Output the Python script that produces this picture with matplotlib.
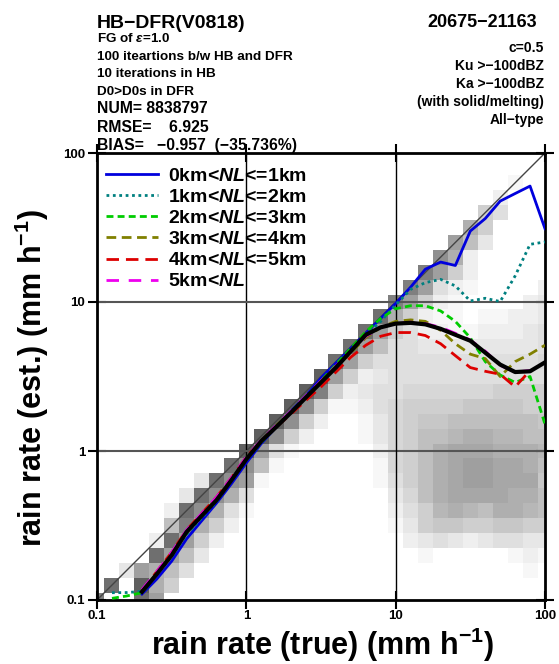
import numpy as np
import matplotlib
matplotlib.use('Agg')
import matplotlib.pyplot as plt

plt.rcParams['font.family'] = ['Liberation Sans', 'DejaVu Sans']
plt.rcParams['font.weight'] = 'bold'
plt.rcParams['mathtext.fontset'] = 'custom'
plt.rcParams['mathtext.rm'] = 'Liberation Sans:bold'
plt.rcParams['mathtext.it'] = 'Liberation Sans:italic:bold'
plt.rcParams['mathtext.bf'] = 'Liberation Sans:bold'

# 2D histogram shading (base-36 digit per cell, 0=white .. k=darkest)
# rows: bottom (0.1 mm/h) -> top (100 mm/h), bins centred every 0.1 in log10
shade_rows = [
    "g00ic00000" "0000000000" "00000000000",
    "0i0ka60000" "0000000000" "00000000000",
    "003ca84000" "0000000000" "00000000010",
    "0000ic8300" "0000000000" "00100000121",
    "00002ic620" "0000000000" "02343234433",
    "000008ga62" "0000000000" "13677667766",
    "000002iea4" "1000000000" "2469a98aa98",
    "0000003iea" "4000000000" "358abbbbaa8",
    "00000003ie" "c100000001" "468abccbbb7",
    "000000000i" "e810000001" "568abccbba8",
    "0000000000" "kc41000002" "568abbbaaa9",
    "0000000000" "0ke6200013" "56889aa9988",
    "0000000000" "00ke620013" "56778888887",
    "0000000000" "000ke61124" "56666777766",
    "0000000000" "0000kg6234" "45555556666",
    "0000000000" "00000kc623" "44444444444",
    "0000000000" "000000ic64" "44444444445",
    "0000000000" "0000000ic8" "44333333334",
    "0000000000" "00000000ic" "64221122234",
    "0000000000" "000000000i" "a6211011223",
    "0000000000" "0000000000" "gc621000023",
    "0000000000" "0000000000" "0gc42100002",
    "0000000000" "0000000000" "00gc6200000",
    "0000000000" "0000000000" "000ea200000",
    "0000000000" "0000000000" "0000c830000",
    "0000000000" "0000000000" "00000a60000",
    "0000000000" "0000000000" "00000064000",
    "0000000000" "0000000000" "00000002000",
    "0000000000" "0000000000" "00000000100",
    "0000000000" "0000000000" "00000000000",
    "0000000000" "0000000000" "00000000000",
]

# true rain rate bin centres (mm/h)
x_from_02 = [0.2, 0.251, 0.316, 0.398, 0.501, 0.631, 0.794, 1.0, 1.26, 1.58,
             2.0, 2.51, 3.16, 3.98, 5.01, 6.31, 7.94, 10.0, 12.6, 15.8,
             20.0, 25.1, 31.6, 39.8, 50.1, 63.1, 79.4, 100.0]
x_from_013 = [0.126, 0.158] + x_from_02

# mean estimated rain rate, log10(mm/h)
nl_all = [-0.945, -0.827, -0.70, -0.543, -0.436, -0.33, -0.196, -0.055,
          0.067, 0.16, 0.26, 0.36, 0.46, 0.56, 0.67, 0.78, 0.83,
          0.855, 0.86, 0.85, 0.82, 0.78, 0.74, 0.66, 0.58, 0.53, 0.535, 0.595]
nl_0_1 = [-0.96, -0.86, -0.74, -0.59, -0.47, -0.35, -0.22, -0.08,
          0.05, 0.16, 0.27, 0.37, 0.49, 0.59, 0.69, 0.79, 0.89,
          0.99, 1.10, 1.22, 1.268, 1.245, 1.476, 1.56, 1.677, 1.728, 1.778, 1.492]
nl_1_2 = [-0.951, -0.95, -0.942, -0.83, -0.71, -0.56, -0.45, -0.34, -0.20, -0.06,
          0.06, 0.16, 0.26, 0.36, 0.47, 0.57, 0.68, 0.78, 0.87,
          0.98, 1.085, 1.13, 1.152, 1.108, 1.007, 1.025, 1.003, 1.175, 1.387, 1.403]
nl_2_3 = [-0.989, -0.973, -0.951, -0.83, -0.70, -0.55, -0.44, -0.33, -0.20, -0.06,
          0.06, 0.16, 0.26, 0.36, 0.47, 0.58, 0.69, 0.80, 0.89,
          0.955, 0.975, 0.975, 0.94, 0.87, 0.76, 0.60, 0.51, 0.46, 0.50, 0.18]
nl_3_4 = [-0.945, -0.82, -0.69, -0.54, -0.43, -0.32, -0.19, -0.05,
          0.07, 0.17, 0.26, 0.36, 0.47, 0.56, 0.66, 0.76, 0.83,
          0.87, 0.88, 0.87, 0.81, 0.72, 0.65, 0.62, 0.50, 0.60, 0.65, 0.71]
nl_4_5 = [-0.94, -0.81, -0.68, -0.53, -0.42, -0.31, -0.18, -0.04,
          0.07, 0.16, 0.25, 0.34, 0.43, 0.53, 0.63, 0.71, 0.77,
          0.795, 0.795, 0.775, 0.72, 0.64, 0.56, 0.535, 0.515, 0.43, 0.54]
nl_5_up = [-0.93, -0.81, -0.68, -0.53, -0.42, -0.31, -0.18, -0.04,
           0.075, 0.17, 0.27, 0.37, 0.47, 0.57, 0.67, 0.77, 0.83,
           0.855, 0.865, 0.855, 0.83, 0.79, 0.745, 0.67, 0.575, 0.53, 0.54]

left_text = ["FG of $\\varepsilon$=1.0", "100 iteartions b/w HB and DFR",
             "10 iterations in HB", "D0>D0s in DFR"]
stat_text = ["NUM= 8838797", "RMSE=    6.925", "BIAS=   \u22120.957  (\u221235.736%)"]
right_text = ["c=0.5", "Ku >\u2212100dBZ", "Ka >\u2212100dBZ",
              "(with solid/melting)", "All\u2212type"]

W, H = 559, 664
fig = plt.figure(figsize=(W / 100, H / 100), dpi=100)
ax = fig.add_axes([97 / W, (H - 600) / H, 448 / W, 447 / H])

def fx(px):
    return px / W

def fy(py):
    return 1 - py / H

# histogram
shade = np.array([[int(c, 36) for c in row] for row in shade_rows])
edges = 10 ** (-1.05 + 0.1 * np.arange(32))
ax.pcolormesh(edges, edges, shade, cmap='gray_r', vmin=0, vmax=32,
              shading='flat', zorder=1)

# guide lines
ax.plot([0.1, 100], [0.1, 100], color='#444444', lw=1.0, zorder=2)
for v in [1, 10]:
    ax.axvline(v, color='black', lw=1.0, zorder=2)
    ax.axhline(v, color='#555555', lw=1.5, zorder=2)

x02 = np.array(x_from_02)
x013 = np.array(x_from_013)
ax.plot(x02, 10 ** np.array(nl_0_1), color='#0000dd', lw=2, zorder=3,
        label='0km<$NL$<=1km')
ax.plot(x013, 10 ** np.array(nl_1_2), color='#008080', lw=2, ls=(0, (1, 1.3)),
        zorder=3, label='1km<$NL$<=2km')
ax.plot(x013, 10 ** np.array(nl_2_3), color='#00cc00', lw=2, ls=(0, (2.5, 1.5)),
        zorder=3, label='2km<$NL$<=3km')
ax.plot(x02, 10 ** np.array(nl_3_4), color='#808000', lw=2, ls=(0, (3.5, 2)),
        zorder=3, label='3km<$NL$<=4km')
ax.plot(x02[:27], 10 ** np.array(nl_4_5), color='#dd0000', lw=2, ls=(0, (4.5, 2.5)),
        zorder=3, label='4km<$NL$<=5km')
ax.plot(x02[:27], 10 ** np.array(nl_5_up), color='#ee00ee', lw=2, ls=(0, (4.5, 3.5)),
        zorder=3, label='5km<$NL$')
ax.plot(x02, 10 ** np.array(nl_all), color='black', lw=3, zorder=4)

ax.set_xscale('log')
ax.set_yscale('log')
ax.set_xlim(0.1, 100)
ax.set_ylim(0.1, 100)
ticks = [0.1, 1, 10, 100]
tick_labels = ['0.1', '1', '10', '100']
ax.set_xticks(ticks)
ax.set_xticklabels(tick_labels)
ax.set_yticks(ticks)
ax.set_yticklabels(tick_labels)
ax.minorticks_off()
ax.tick_params(direction='inout', length=13, width=1.5, top=True, right=True,
               labelsize=9.5, pad=2)
ax.tick_params(axis='x', pad=0.5)
for s in ax.spines.values():
    s.set_linewidth(2)

leg = ax.legend(loc='upper left', bbox_to_anchor=(0.02, 0.968), frameon=False,
                fontsize=14, handlelength=2.7, handletextpad=0.5,
                labelspacing=0.18, borderaxespad=0, borderpad=0)

# header text
fig.text(fx(97), fy(28), "HB\u2212DFR(V0818)", fontsize=14, va='baseline')
for k, t in enumerate(left_text):
    fig.text(fx(97), fy(42 + 17.7 * k), t, fontsize=9.7, va='baseline')
for k, t in enumerate(stat_text):
    fig.text(fx(97), fy(113 + 18.5 * k), t, fontsize=11.3, va='baseline')
fig.text(fx(537), fy(27), "20675\u221221163", fontsize=13, va='baseline', ha='right')
for k, t in enumerate(right_text):
    fig.text(fx(544), fy(52 + 18 * k), t, fontsize=10, va='baseline', ha='right')

fig.text(fx(322), fy(645), "rain rate (true) (mm h$^{-1}$)", fontsize=22,
         ha='center', va='center')
fig.text(fx(32), fy(378), "rain rate (est.) (mm h$^{-1}$)", fontsize=22,
         ha='center', va='center', rotation=90)

fig.savefig('out.png', dpi=100)
